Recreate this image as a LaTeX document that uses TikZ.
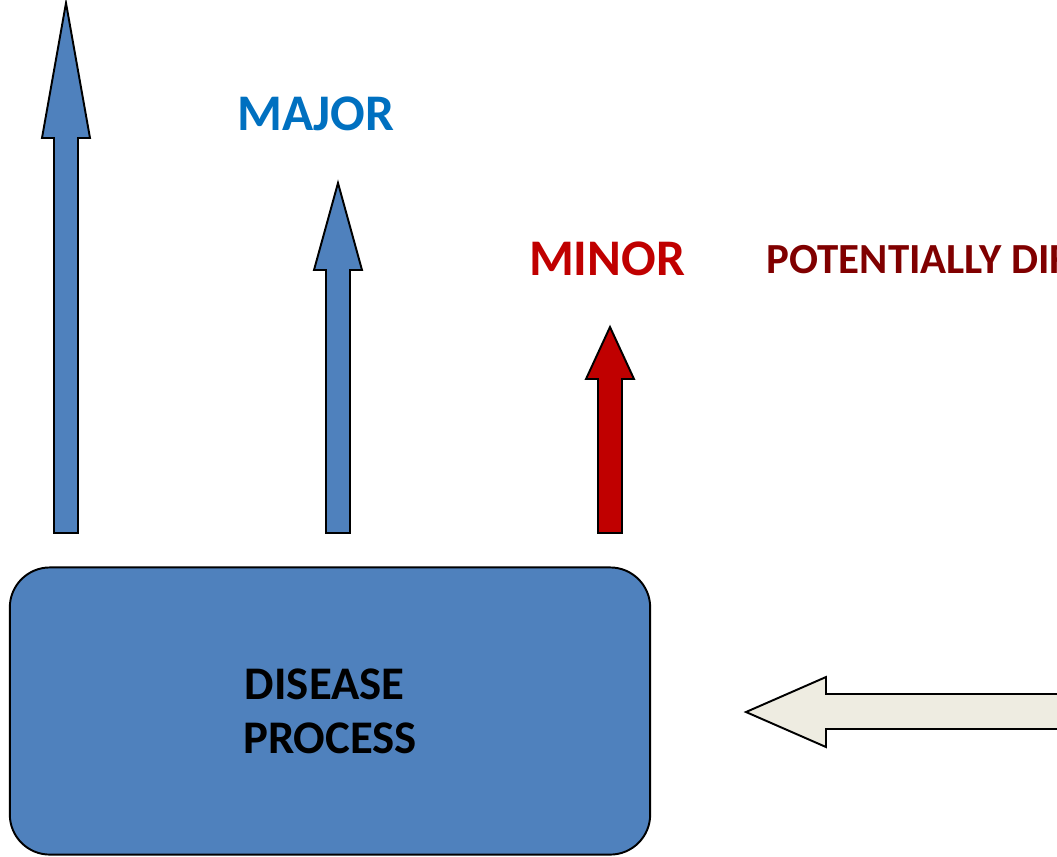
\documentclass[tikz,border=0pt]{standalone}
\usepackage{fontspec}
\setmainfont{Carlito}
\definecolor{procblue}{HTML}{4F81BD}
\definecolor{majorblue}{HTML}{0070C0}
\definecolor{minorred}{HTML}{C00000}
\definecolor{diffred}{HTML}{800000}
\definecolor{inbeige}{HTML}{EEECE1}
\tikzset{
  blockarrow/.style={draw=black, line width=0.55pt, line join=miter},
  tagtext/.style={font=\bfseries\fontsize{14.6}{17}\selectfont, inner sep=0pt, anchor=base}
}
\begin{document}
\begin{tikzpicture}[x=0.01cm, y=-0.01cm]
\useasboundingbox (0,0) rectangle (1057,856);
\clip (0,0) rectangle (1057,856);

% process box
\node[draw, line width=0.55pt, fill=procblue, rounded corners=0.4cm,
      minimum width=6.4cm, minimum height=2.87cm, inner sep=0pt, align=center,
      font=\bfseries\fontsize{13.3}{15.4}\selectfont] (disease) at (330,711)
      {DISEASE\kern3pt\\PROCESS};

% upward arrows: centre/tip/head base/colour
\foreach \x/\tip/\head/\col in {66/3/138/procblue, 338/183/270/procblue, 610/327/379/minorred}
{
    \draw[blockarrow, fill=\col] (\x-12,533) -- (\x-12,\head) -- (\x-24,\head) -- (\x,\tip)
        -- (\x+24,\head) -- (\x+12,\head) -- (\x+12,533) -- cycle;
}

% incoming arrow from the right
\draw[blockarrow, fill=inbeige] (1080,694) -- (826,694) -- (826,677) -- (746,712)
    -- (826,747) -- (826,729) -- (1080,729) -- cycle;

\node[tagtext, text=majorblue] (major) at (316,130) {MAJOR};
\node[tagtext, text=minorred] (minor) at (607,275) {MINOR};
\node[tagtext, anchor=base west, text=diffred, font=\bfseries\fontsize{12.2}{14}\selectfont] (diff) at (766,273) {POTENTIALLY DIFFERENT};

\end{tikzpicture}
\end{document}
